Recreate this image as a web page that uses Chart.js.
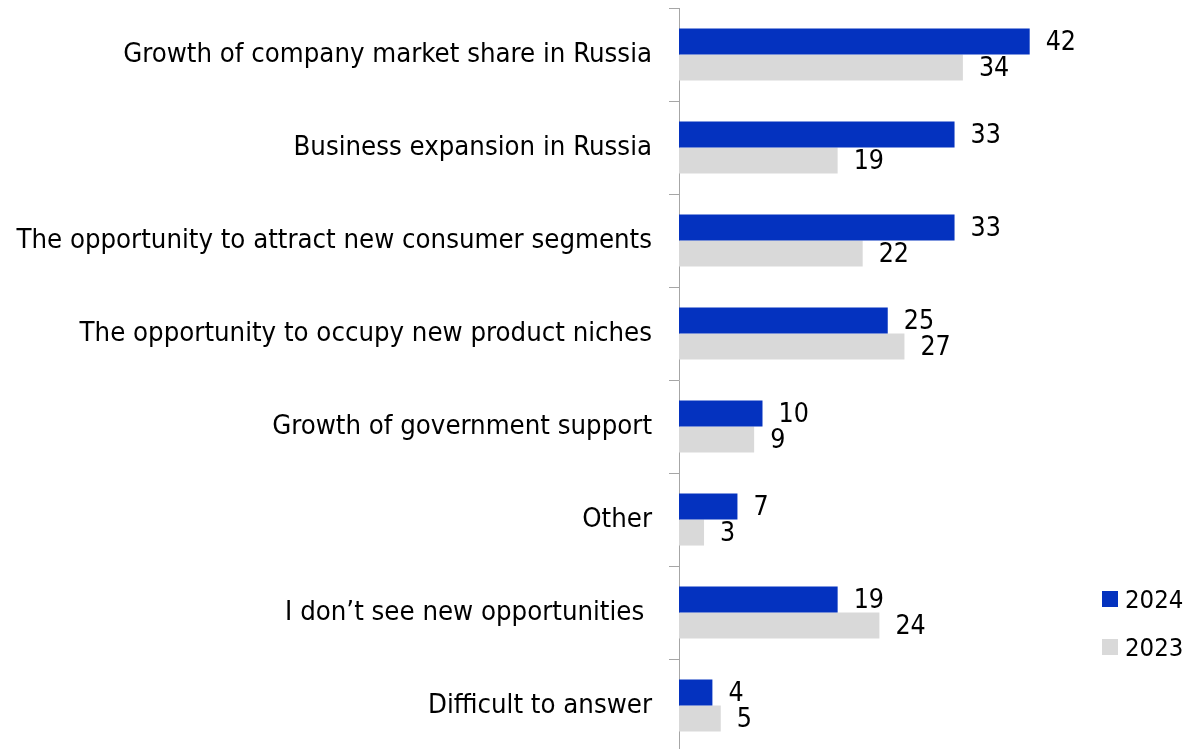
<!DOCTYPE html>
<html>
<head>
<meta charset="utf-8">
<script src="https://cdn.jsdelivr.net/npm/chart.js@4/dist/chart.umd.min.js"></script>
<style>
  html, body { margin: 0; padding: 0; background: #fff; overflow: hidden; }
  #wrap { position: relative; width: 1190px; height: 752px; }
  #legend { position: absolute; left: 1102px; top: 575px; font-family: 'DejaVu Sans Condensed', 'DejaVu Sans', sans-serif; font-size: 25.5px; color: #000; }
  .li { display: flex; align-items: center; height: 48px; }
  .sw { width: 16px; height: 16px; margin-right: 7px; }
</style>
</head>
<body>
<div id="wrap">
  <canvas id="c" width="1190" height="752"></canvas>
  <div id="legend"></div>
</div>
<script>
const categories = [
  "Growth of company market share in Russia",
  "Business expansion in Russia",
  "The opportunity to attract new consumer segments",
  "The opportunity to occupy new product niches",
  "Growth of government support",
  "Other",
  "I don\u2019t see new opportunities ",
  "Difficult to answer"
];
const seriesNames = ["2024", "2023"];
const values2024 = [42, 33, 33, 25, 10, 7, 19, 4];
const values2023 = [34, 19, 22, 27, 9, 3, 24, 5];
const seriesColors = ["#0432BF", "#D9D9D9"];

const FONT = "'DejaVu Sans Condensed', 'DejaVu Sans', sans-serif";
const FSIZE = 27.3;
Chart.defaults.font.family = FONT;
Chart.defaults.font.size = FSIZE;
Chart.defaults.color = "#000";

const labelPlugin = {
  id: "valueLabels",
  afterDatasetsDraw(chart) {
    const ctx = chart.ctx;
    ctx.save();
    ctx.font = "26.5px " + FONT;
    ctx.fillStyle = "#000";
    ctx.textAlign = "left";
    ctx.textBaseline = "middle";
    chart.data.datasets.forEach((ds, i) => {
      const meta = chart.getDatasetMeta(i);
      meta.data.forEach((el, j) => {
        ctx.fillText(String(ds.data[j]), el.x + 16, el.y + 2);
      });
    });
    ctx.restore();
  }
};

const ch = new Chart(document.getElementById("c"), {
  type: "bar",
  data: {
    labels: categories,
    datasets: [
      { label: seriesNames[0], data: values2024, backgroundColor: seriesColors[0], borderWidth: 0 },
      { label: seriesNames[1], data: values2023, backgroundColor: seriesColors[1], borderWidth: 0 }
    ]
  },
  options: {
    indexAxis: "y",
    responsive: false,
    animation: false,
    layout: { padding: { top: 8, right: 0, bottom: 0, left: 0 } },
    plugins: { legend: { display: false }, tooltip: { enabled: false } },
    datasets: { bar: { categoryPercentage: 0.56, barPercentage: 1.0 } },
    scales: {
      x: { display: false, min: 0, max: 61.2 },
      y: {
        afterFit(scale) { scale.width = 679; scale.paddingTop = 0; scale.paddingBottom = 0; },
        grid: { display: true, drawOnChartArea: false, drawTicks: true, tickLength: 10, color: "#A6A6A6", offset: true },
        border: { display: true, color: "#A6A6A6", width: 1 },
        ticks: { padding: 17, color: "#000", font: { size: FSIZE } }
      }
    }
  },
  plugins: [labelPlugin]
});

const lg = document.getElementById("legend");
seriesNames.forEach((n, i) => {
  const d = document.createElement("div");
  d.className = "li";
  d.innerHTML = '<span class="sw" style="background:' + seriesColors[i] + '"></span><span>' + n + '</span>';
  lg.appendChild(d);
});
</script>
</body>
</html>
